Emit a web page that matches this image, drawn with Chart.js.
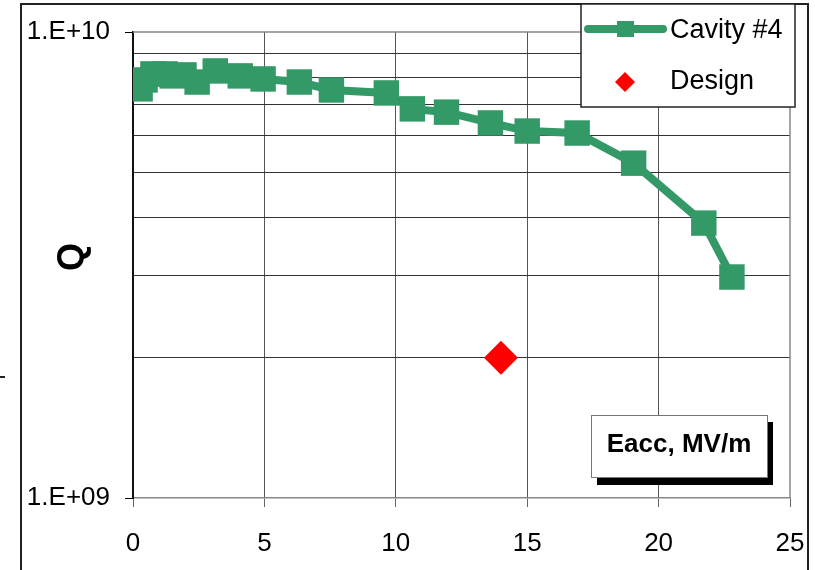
<!DOCTYPE html>
<html>
<head>
<meta charset="utf-8">
<script src="https://cdn.jsdelivr.net/npm/chart.js@4.4.1/dist/chart.umd.min.js"></script>
<style>
  body { margin: 0; background: #fff; }
  canvas { display: block; }
</style>
</head>
<body>
<canvas id="q_chart" width="815" height="570"></canvas>
<script>
// Q vs accelerating gradient, cavity #4
const eacc = [0.27, 0.46, 0.76, 1.22, 1.49, 1.94, 2.44, 3.13, 4.08, 4.95, 6.33, 7.55, 9.64, 10.63, 11.93, 13.6, 15.0, 16.9, 19.05, 21.72, 22.79];
const qCavity = [7.55e9, 7.89e9, 8.13e9, 8.13e9, 8.05e9, 8.09e9, 7.81e9, 8.25e9, 8.05e9, 7.93e9, 7.81e9, 7.51e9, 7.40e9, 6.84e9, 6.73e9, 6.38e9, 6.13e9, 6.07e9, 5.23e9, 3.89e9, 2.98e9];
const designEacc = [14];
const designQ = [2.0e9];
const yGridValues = [1e9, 2e9, 3e9, 4e9, 5e9, 6e9, 7e9, 8e9, 9e9, 1e10];
const yLabels = { 1e9: '1.E+09', 1e10: '1.E+10' };

const green = '#339966';
const font = 'Liberation Sans, Arial, sans-serif';

const toPoints = (xs, ys) => xs.map((x, i) => ({ x: x, y: ys[i] }));

// frame, legend, axis titles
const decorations = {
  id: 'decorations',
  afterDraw: (chart) => {
    const ctx = chart.ctx;
    const area = chart.chartArea;
    ctx.save();

    // top and right plot border
    ctx.strokeStyle = '#888';
    ctx.lineWidth = 1.5;
    ctx.beginPath();
    ctx.moveTo(area.left, area.top);
    ctx.lineTo(area.right, area.top);
    ctx.lineTo(area.right, area.bottom);
    ctx.stroke();

    // outer frame
    ctx.strokeStyle = '#222';
    ctx.lineWidth = 2;
    ctx.beginPath();
    ctx.moveTo(21, 570);
    ctx.lineTo(21, 4);
    ctx.lineTo(808, 4);
    ctx.lineTo(808, 570);
    ctx.stroke();
    ctx.fillStyle = '#222';
    ctx.fillRect(0, 376, 5, 2);

    // legend
    ctx.fillStyle = '#fff';
    ctx.fillRect(581, 4, 214, 103);
    ctx.strokeStyle = '#222';
    ctx.lineWidth = 1.5;
    ctx.strokeRect(581, 4, 214, 103);
    ctx.strokeStyle = green;
    ctx.lineWidth = 8;
    ctx.lineCap = 'round';
    ctx.beginPath();
    ctx.moveTo(588, 29);
    ctx.lineTo(663, 29);
    ctx.stroke();
    ctx.fillStyle = green;
    ctx.fillRect(617, 21, 17, 16);
    ctx.fillStyle = '#ff0000';
    ctx.beginPath();
    ctx.moveTo(625, 72);
    ctx.lineTo(635, 82);
    ctx.lineTo(625, 92);
    ctx.lineTo(615, 82);
    ctx.closePath();
    ctx.fill();
    ctx.fillStyle = '#000';
    ctx.font = '27px ' + font;
    ctx.textAlign = 'left';
    ctx.textBaseline = 'middle';
    ctx.fillText('Cavity #4', 670, 31);
    ctx.fillText('Design', 670, 82);

    // x axis title box with shadow
    ctx.fillStyle = '#000';
    ctx.fillRect(597, 422, 176, 63);
    ctx.fillStyle = '#fff';
    ctx.fillRect(591, 415, 176, 62);
    ctx.strokeStyle = '#777';
    ctx.lineWidth = 1;
    ctx.strokeRect(591.5, 415.5, 176, 62);
    ctx.fillStyle = '#000';
    ctx.font = 'bold 26px ' + font;
    ctx.textAlign = 'center';
    ctx.fillText('Eacc, MV/m', 679, 445);

    // y axis title
    ctx.translate(73, 257);
    ctx.rotate(-Math.PI / 2);
    ctx.font = 'bold 36px ' + font;
    ctx.fillText('Q', 0, 0);
    ctx.restore();
  }
};

new Chart(document.getElementById('q_chart'), {
  type: 'scatter',
  data: {
    datasets: [{
      label: 'Cavity #4',
      data: toPoints(eacc, qCavity),
      showLine: true,
      borderColor: green,
      borderWidth: 8,
      backgroundColor: green,
      pointStyle: 'rect',
      pointRadius: 18,
      pointHoverRadius: 18,
      pointBorderWidth: 0,
      tension: 0
    }, {
      label: 'Design',
      data: toPoints(designEacc, designQ),
      backgroundColor: '#ff0000',
      pointStyle: 'rectRot',
      pointRadius: 17,
      pointBorderWidth: 0
    }]
  },
  options: {
    responsive: false,
    animation: false,
    layout: { padding: { left: 0, top: 32, right: 25, bottom: 0 } },
    plugins: {
      legend: { display: false },
      tooltip: { enabled: false }
    },
    scales: {
      x: {
        type: 'linear',
        min: 0,
        max: 25,
        afterFit: (scale) => {
          scale.height = 72;
          scale.paddingLeft = 0;
          scale.paddingRight = 0;
        },
        ticks: {
          stepSize: 5,
          padding: 21,
          color: '#000',
          font: { family: font, size: 26 }
        },
        grid: {
          color: (c) => (c.tick && (c.tick.value === 0 || c.tick.value === 25)) ? 'rgba(0,0,0,0)' : '#555',
          lineWidth: 1,
          tickColor: '#666',
          tickLength: 9
        },
        border: { color: '#888', width: 1.5 }
      },
      y: {
        type: 'logarithmic',
        min: 1e9,
        max: 1e10,
        afterFit: (scale) => {
          scale.width = 133;
          scale.paddingTop = 0;
          scale.paddingBottom = 0;
        },
        afterBuildTicks: (scale) => {
          scale.ticks = yGridValues.map((v) => ({ value: v }));
        },
        ticks: {
          autoSkip: false,
          padding: 15,
          color: '#000',
          font: { family: font, size: 26 },
          callback: (value) => yLabels[value] || ''
        },
        grid: {
          color: (c) => (c.tick && yLabels[c.tick.value]) ? 'rgba(0,0,0,0)' : '#333',
          lineWidth: 1,
          tickColor: (c) => (c.tick && yLabels[c.tick.value]) ? '#000' : 'rgba(0,0,0,0)',
          tickLength: 8
        },
        border: { color: '#111', width: 2 }
      }
    }
  },
  plugins: [decorations]
});
</script>
</body>
</html>
